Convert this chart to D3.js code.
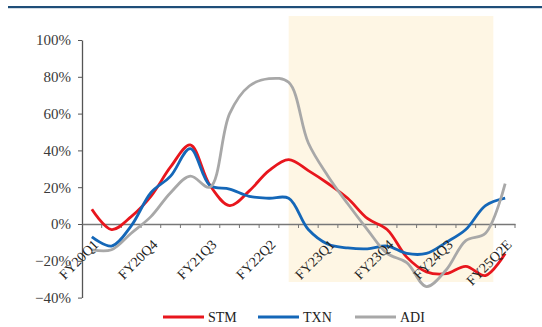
<!DOCTYPE html>
<html><head><meta charset="utf-8">
<script src="https://cdn.jsdelivr.net/npm/d3@7"></script>
<style>body{margin:0;background:#fff}svg{display:block}</style>
</head><body><svg id="c" width="542" height="327"></svg>
<script>
const categories = ["FY20Q1","FY20Q2","FY20Q3","FY20Q4","FY21Q1","FY21Q2","FY21Q3","FY21Q4","FY22Q1","FY22Q2","FY22Q3","FY22Q4","FY23Q1","FY23Q2","FY23Q3","FY23Q4","FY24Q1","FY24Q2","FY24Q3","FY24Q4","FY25Q1","FY25Q2E"];
const stm = [8,-3,4,15,31,43,21,10,18,29,35,29,22,14,3,-3,-18,-26,-27,-23,-28,-16];
const txn = [-7,-12,-1,17,26,41,21,19,15,14,14,-3,-11,-13,-13.5,-12,-16,-16,-10,-3,10,14];
const adi = [-14,-14,-5,4,17,26,20,60,75,79,77,44,26,11,-3,-16,-21,-34,-25,-9,-5,22];
const yTicks = [-0.4,-0.2,0,0.2,0.4,0.6,0.8,1.0];
const xLabelIdx = [0,3,6,9,12,15,18,21];
const seriesNames = ["STM","TXN","ADI"];
const colors = ["#e8161d","#1467b8","#a8a8a8"];

const svg = d3.select("#c");
const x = d3.scaleBand().domain(categories).range([82,515]);
const y = d3.scaleLinear().domain([-0.4,1.0]).range([297.6,40]);
const cx = c => x(c) + x.bandwidth()/2;

// top rule
svg.append("rect").attr("x",8).attr("y",6).attr("width",534).attr("height",2.2).attr("fill","#1f4e79");

// shaded forecast region
svg.append("rect")
  .attr("x", cx("FY22Q3")).attr("y",16)
  .attr("width", x("FY25Q1")+x.bandwidth()*0.9 - cx("FY22Q3"))
  .attr("height",266).attr("fill","#fef6e4");

// y axis
const yAx = svg.append("g").attr("transform","translate(82,0)")
  .call(d3.axisLeft(y).tickValues(yTicks).tickFormat(d3.format(".0%")).tickSize(4).tickSizeOuter(0));
yAx.select(".domain").attr("stroke","#555").attr("stroke-width",1.3);
yAx.selectAll(".tick line").attr("stroke","#555");
yAx.selectAll("text").attr("font-family","'Liberation Serif',serif").attr("font-size",15).attr("fill","#3a3a3a").attr("x",-11);

// x axis at zero
const xAx = svg.append("g").attr("transform",`translate(0,${y(0)})`)
  .call(d3.axisBottom(x).tickValues([]).tickSizeOuter(0));
xAx.select(".domain").attr("stroke","#777").attr("stroke-width",1.3);
const tickPos = categories.map(c => x(c)).concat([x.range()[1]]).slice(1);
xAx.selectAll(".tk").data(tickPos).enter().append("line")
  .attr("x1",d=>d).attr("x2",d=>d).attr("y1",0).attr("y2",4).attr("stroke","#777");

// lines
const line = d3.line().x((d,i)=>cx(categories[i])).y(d=>y(d/100)).curve(d3.curveCatmullRom.alpha(0.5));
[stm,txn,adi].forEach((s,k)=>{
  svg.append("path").attr("d",line(s)).attr("fill","none")
    .attr("stroke",colors[k]).attr("stroke-width",2.8).attr("stroke-linejoin","round");
});

// x labels
svg.append("g").selectAll("text").data(xLabelIdx).enter().append("text")
  .attr("transform",i=>`translate(${cx(categories[i])+4},${y(0)+18}) rotate(-45)`)
  .attr("text-anchor","end").attr("dy","0.35em")
  .attr("font-family","'Liberation Serif',serif").attr("font-size",14).attr("fill","#222")
  .text(i=>categories[i]);

// legend
const lg = svg.append("g");
const lx = [163,258,355];
seriesNames.forEach((n,k)=>{
  lg.append("line").attr("x1",lx[k]).attr("x2",lx[k]+41).attr("y1",317).attr("y2",317)
    .attr("stroke",colors[k]).attr("stroke-width",3);
  lg.append("text").attr("x",lx[k]+45).attr("y",317).attr("dy","0.33em")
    .attr("font-family","'Liberation Serif',serif").attr("font-size",14).attr("fill","#222").text(n);
});
</script></body></html>
